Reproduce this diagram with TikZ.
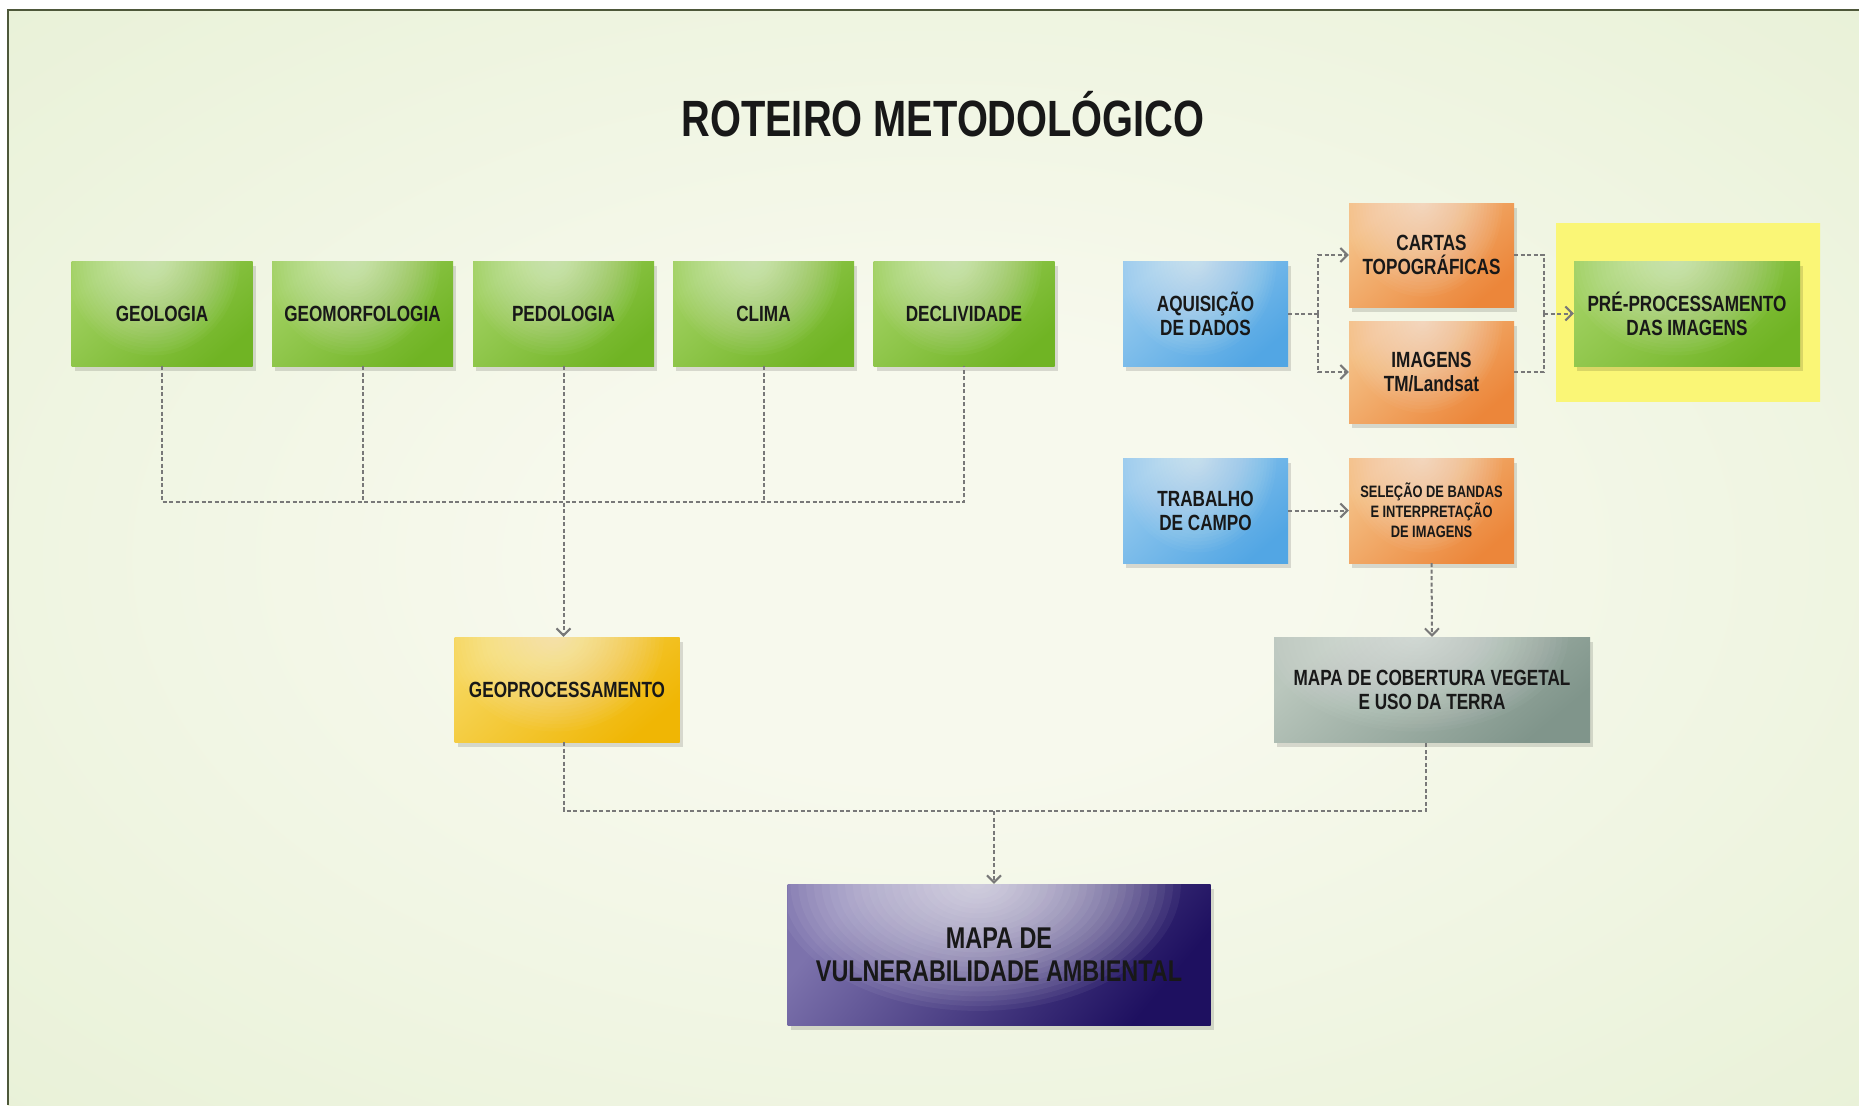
\documentclass[tikz,border=0pt]{standalone}
\usepackage{fontspec}
\setmainfont{Liberation Sans}[FakeStretch=0.78]
\usetikzlibrary{arrows.meta,shadows}

\definecolor{bgin}{RGB}{247,249,237}
\definecolor{bgout}{RGB}{214,231,188}
\definecolor{frame}{RGB}{78,88,58}
\definecolor{txt}{RGB}{24,24,24}
\definecolor{conncol}{RGB}{120,120,120}
\definecolor{grlt}{RGB}{160,208,96}
\definecolor{grdk}{RGB}{112,180,36}
\definecolor{bllt}{RGB}{150,202,238}
\definecolor{bldk}{RGB}{82,166,228}
\definecolor{orlt}{RGB}{244,192,134}
\definecolor{ordk}{RGB}{236,134,58}
\definecolor{yelt}{RGB}{246,214,92}
\definecolor{yedk}{RGB}{240,182,4}
\definecolor{gylt}{RGB}{186,199,189}
\definecolor{gydk}{RGB}{128,149,139}
\definecolor{pult}{RGB}{124,114,172}
\definecolor{pudk}{RGB}{30,16,96}
\definecolor{hlin}{RGB}{250,246,118}
\definecolor{hlout}{RGB}{246,246,170}

\pgfdeclareradialshading{shbg}{\pgfpoint{0bp}{0bp}}{color(0bp)=(bgin); color(10bp)=(bgin); color(70bp)=(bgout)}
\pgfdeclareradialshading{shhl}{\pgfpoint{0bp}{0bp}}{color(0bp)=(hlin); color(38bp)=(hlin); color(71bp)=(hlout)}

\tikzset{
  glow/.style={path picture={
    \foreach \k in {1,...,26}{
      \fill[white, fill opacity=#1]
        ([xshift=-0.05*\pgfkeysvalueof{/pgf/minimum width}]path picture bounding box.north)
        ellipse [x radius={\k/26*0.48*\pgfkeysvalueof{/pgf/minimum width}}, y radius={\k/26*0.9*\pgfkeysvalueof{/pgf/minimum height}}];
    }}},
  box/.style={rectangle, inner sep=0pt, align=center, text=txt,
    font=\bfseries\fontsize{22}{24}\selectfont,
    drop shadow={shadow xshift=3pt, shadow yshift=-5pt, opacity=0.13, fill=black}},
  cbox/.style n args={2}{box, top color=#1, bottom color=#2, shading angle=40, glow=0.032},
  topbox/.style={cbox={grlt}{grdk}, minimum width=181pt, minimum height=105pt},
  bluebox/.style={cbox={bllt}{bldk}, minimum width=165pt, minimum height=105pt},
  orangebox/.style={cbox={orlt}{ordk}, minimum width=165pt, minimum height=104pt},
  conn/.style={draw=conncol, line width=2pt, dash pattern=on 4pt off 2.5pt},
  arr/.style={conn, -{Straight Barb[length=7pt,width=14pt,line width=2pt]}}
}

\begin{document}
\begin{tikzpicture}[x=1pt,y=-1pt]
\useasboundingbox (0,0) rectangle (1859,1105);
\fill[white] (0,0) rectangle (1859,1105);
\shade[shading=shbg] (8,10) rectangle (1859,1105);
\draw[frame, line width=2.5pt] (8,1105) -- (8,10) -- (1859,10);

\node[text=txt, font=\bfseries\fontsize{51}{56}\selectfont] (title) at (943,114) {ROTEIRO METODOLÓGICO};

% left column
\node[topbox] (geo) at (162,313.5) {GEOLOGIA};
\node[topbox] (geomorf) at (362.5,313.5) {GEOMORFOLOGIA};
\node[topbox] (pedo) at (563.5,313.5) {PEDOLOGIA};
\node[topbox] (clima) at (763.5,313.5) {CLIMA};
\node[topbox] (decl) at (964,313.5) {DECLIVIDADE};

\node[cbox={yelt}{yedk}, minimum width=225pt, minimum height=105pt] (geoproc) at (567,689.5) {GEOPROCESSAMENTO};

% right column
\node[bluebox] (aq) at (1205.5,313.5) {AQUISIÇÃO\\DE DADOS};
\node[orangebox] (cartas) at (1431.5,255) {CARTAS\\TOPOGRÁFICAS};
\node[orangebox, minimum height=102pt] (imagens) at (1431.5,372) {IMAGENS\\TM/Landsat};

\shade[shading=shhl] (1556,223) rectangle (1820,401);
\node[cbox={grlt}{grdk}, minimum width=226pt, minimum height=105pt] (pre) at (1687,313.5) {PRÉ-PROCESSAMENTO\\DAS IMAGENS};

\node[bluebox] (trab) at (1205.5,510.5) {TRABALHO\\DE CAMPO};
\node[orangebox, minimum height=105pt, font=\bfseries\fontsize{16.5}{20}\selectfont] (sel) at (1431.5,510.5) {SELEÇÃO DE BANDAS\\E INTERPRETAÇÃO\\DE IMAGENS};

\node[cbox={gylt}{gydk}, minimum width=316pt, minimum height=105pt] (mapaveg) at (1432,689.5) {MAPA DE COBERTURA VEGETAL\\E USO DA TERRA};

\node[box, top color=pult, bottom color=pudk, shading angle=50, glow=0.05, minimum width=423pt, minimum height=141pt, font=\bfseries\fontsize{30}{33}\selectfont] (vuln) at (999,954.5) {MAPA DE\\VULNERABILIDADE AMBIENTAL};

% connectors left
\coordinate (bus) at (563.5,502);
\draw[conn] (geo.south) |- (bus -| decl.south) -- (decl.south);
\draw[conn] (geomorf.south) -- (geomorf.south |- bus);
\draw[conn] (clima.south) -- (clima.south |- bus);
\draw[arr] (pedo.south) -- (pedo.south |- geoproc.north);

% connectors bottom
\coordinate (bus2) at (994,811);
\coordinate (gpout) at ([xshift=-3pt]geoproc.south);
\coordinate (vegout) at ([xshift=-6pt]mapaveg.south);
\draw[conn] (gpout) |- (bus2) -| (vegout);
\draw[arr] (bus2) -- (bus2 |- vuln.north);

% connectors right
\coordinate (split) at (1318,313.5);
\draw[conn] (aq.east) -- (split);
\draw[arr] (split) |- (cartas.west);
\draw[arr] (split) |- (imagens.west);
\coordinate (join) at (1544,313.5);
\draw[conn] (cartas.east) -| (join);
\draw[conn] (imagens.east) -| (join);
\draw[arr] (join) -- (pre.west);

\draw[arr] (trab.east) -- (sel.west);
\draw[arr] (sel.south) -- (mapaveg.north);
\end{tikzpicture}
\end{document}
